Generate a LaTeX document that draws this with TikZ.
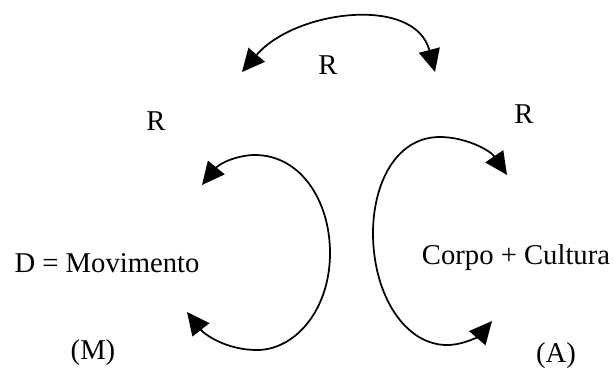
\documentclass[tikz,border=0pt]{standalone}
\usepackage{fontspec}
\setmainfont{Liberation Serif}
\usetikzlibrary{arrows.meta}
\begin{document}
\begin{tikzpicture}[x=0.75pt,y=-0.75pt,
  lbl/.style={inner sep=0pt,font=\fontsize{21.5pt}{25pt}\selectfont},
  arc/.style={line width=1.3pt,{Triangle[length=17pt,width=16pt]}-{Triangle[length=17pt,width=16pt]}}]
\useasboundingbox (0,0) rectangle (614,372);
% labels
\node[lbl] (rtop) at (328,65) {R};
\node[lbl] (rleft) at (156,121) {R};
\node[lbl] (rright) at (524,114) {R};
\node[lbl] (d) at (107,263) {D = Movimento};
\node[lbl] (m) at (93,353) {(M)};
\node[lbl] (c) at (516,258) {Corpo + Cultura};
\node[lbl] (a) at (556,356) {(A)};
% end coordinates
\coordinate (t1) at (242,72);
\coordinate (t2) at (435,72);
\coordinate (l1) at (202,185);
\coordinate (l2) at (187,312);
\coordinate (r1) at (507,175);
\coordinate (r2) at (492,321);
% arcs
\draw[arc] (t1) .. controls (295,10) and (415,-5) .. (t2);
\draw[arc] (l1) .. controls (220,163) and (238,155) .. (255,155)
  .. controls (300,155) and (330,200) .. (330,253)
  .. controls (330,310) and (295,350) .. (257,350)
  .. controls (227,350) and (205,335) .. (l2);
\draw[arc] (r1) .. controls (490,150) and (465,137) .. (440,137)
  .. controls (395,137) and (373,185) .. (373,233)
  .. controls (373,295) and (405,345) .. (447,345)
  .. controls (465,345) and (480,335) .. (r2);
\end{tikzpicture}
\end{document}
